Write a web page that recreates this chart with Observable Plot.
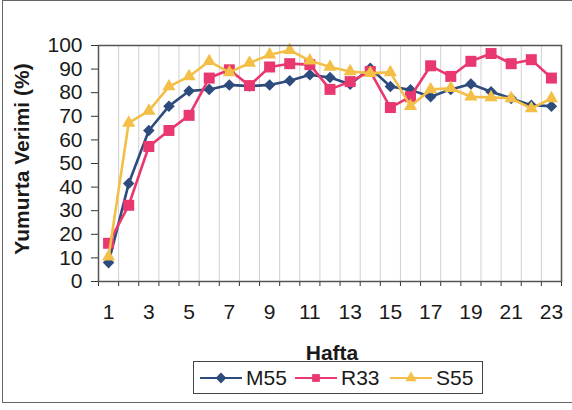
<!DOCTYPE html>
<html>
<head>
<meta charset="utf-8">
<script src="https://cdn.jsdelivr.net/npm/d3@7"></script>
<script src="https://cdn.jsdelivr.net/npm/@observablehq/plot@0.6"></script>
<style>
  html, body { margin: 0; padding: 0; background: #fff; }
  #wrap { position: relative; width: 572px; height: 410px; font-family: Arial, "Liberation Sans", sans-serif; color: #1a1a1a; overflow: hidden; }
  #chart { position: absolute; left: 0; top: 0; }
  #border { position: absolute; left: 2px; top: 0px; width: 580px; height: 403px; border: 1.5px solid #666; box-sizing: border-box; }
  #ylab { position: absolute; left: 22px; top: 159px; transform: translate(-50%, -50%) rotate(-90deg); font-weight: bold; font-size: 21px; white-space: nowrap; }
  #xlab { position: absolute; left: 332px; top: 353px; transform: translate(-50%, -50%); font-weight: bold; font-size: 21px; }
  #legend { position: absolute; left: 193px; top: 361px; width: 290px; height: 33px; border: 1px solid #444; box-sizing: border-box; font-size: 21px; }
  #legend .item { position: absolute; top: 0; height: 31px; display: flex; align-items: center; }
  #legend svg { display: block; }
</style>
</head>
<body>
<div id="wrap">
  <div id="chart"></div>
  <div id="border"></div>
  <div id="ylab">Yumurta Verimi (%)</div>
  <div id="xlab">Hafta</div>
  <div id="legend"></div>
</div>
<script>
const weeks = [1,2,3,4,5,6,7,8,9,10,11,12,13,14,15,16,17,18,19,20,21,22,23];
const xTickLabels = [1,3,5,7,9,11,13,15,17,19,21,23];
const yTicks = [0,10,20,30,40,50,60,70,80,90,100];
const seriesNames = ["M55", "R33", "S55"];
const m55 = [8,41.5,64,74.3,80.7,81.4,83.3,82.8,83.3,85.1,87.6,86.4,83.6,90.4,82.6,81.2,78.3,81.4,83.7,80.4,77.6,74.7,74.3];
const r33 = [16.2,32.3,57.2,64,70.4,86.2,89.7,83,90.9,92.3,91.9,81.4,84.7,89,73.7,78.3,91.4,86.9,93.3,96.6,92.3,94,86.2];
const s55 = [10.5,67.2,72.3,82.6,86.9,93.3,88.6,92.6,96.1,98,93.6,90.9,89,88.3,88.6,74.3,81.4,81.9,78.3,78,77.6,73.3,77.6];
const colors = ["#2d4b7d", "#e8386f", "#f3bf47"];
const symbols = ["diamond2", "square", "triangle"];
const radii = [5.2, 6.2, 4.9];

const valuesList = [m55, r33, s55];
const series = seriesNames.map((name, i) => ({
  name, color: colors[i], symbol: symbols[i], r: radii[i],
  data: weeks.map((w, j) => ({week: w, v: valuesList[i][j]}))
}));
const bounds = [weeks[0] - 0.5, ...weeks.map(w => w + 0.5)];
const innerBounds = bounds.slice(1, -1);

const marks = [
  Plot.ruleX(innerBounds, {stroke: "#d0d0d0", strokeWidth: 1}),
  Plot.axisY({ticks: yTicks, tickSize: 7, tickPadding: 9, label: null, stroke: "#333"}),
  Plot.axisX({ticks: bounds, tickSize: 5, tickFormat: () => "", label: null, stroke: "#333"}),
  Plot.axisX({ticks: xTickLabels, tickSize: 0, tickPadding: 23, label: null}),
];
for (const s of series) {
  marks.push(Plot.line(s.data, {x: "week", y: "v", stroke: s.color, strokeWidth: 2.6}));
  marks.push(Plot.dot(s.data, {x: "week", y: "v", symbol: s.symbol, r: s.r, fill: s.color, stroke: "none"}));
}
marks.push(Plot.frame({stroke: "#555", strokeWidth: 1.5}));

const chart = Plot.plot({
  width: 572, height: 410,
  marginLeft: 98, marginRight: 11, marginTop: 45, marginBottom: 129,
  x: {type: "linear", domain: [bounds[0], bounds[bounds.length - 1]]},
  y: {domain: [0, 100]},
  style: {fontSize: "21px", fontFamily: "Arial, 'Liberation Sans', sans-serif", color: "#1a1a1a", background: "transparent", overflow: "visible"},
  marks
});
document.getElementById("chart").appendChild(chart);

// legend
const legend = document.getElementById("legend");
const symMap = {diamond2: d3.symbolDiamond2, square: d3.symbolSquare, triangle: d3.symbolTriangle};
const symSize = {diamond2: 75, square: 60, triangle: 55};
series.forEach((s, i) => {
  const item = document.createElement("div");
  item.className = "item";
  item.style.left = (6 + i * 95) + "px";
  const sw = d3.create("svg").attr("width", 43).attr("height", 16);
  sw.append("line").attr("x1", 0).attr("x2", 42).attr("y1", 8).attr("y2", 8).attr("stroke", s.color).attr("stroke-width", 2);
  sw.append("path").attr("transform", "translate(21,8)").attr("d", d3.symbol(symMap[s.symbol], symSize[s.symbol])()).attr("fill", s.color);
  item.appendChild(sw.node());
  const t = document.createElement("span");
  t.textContent = s.name;
  t.style.marginLeft = "3px";
  item.appendChild(t);
  legend.appendChild(item);
});
</script>
</body>
</html>
